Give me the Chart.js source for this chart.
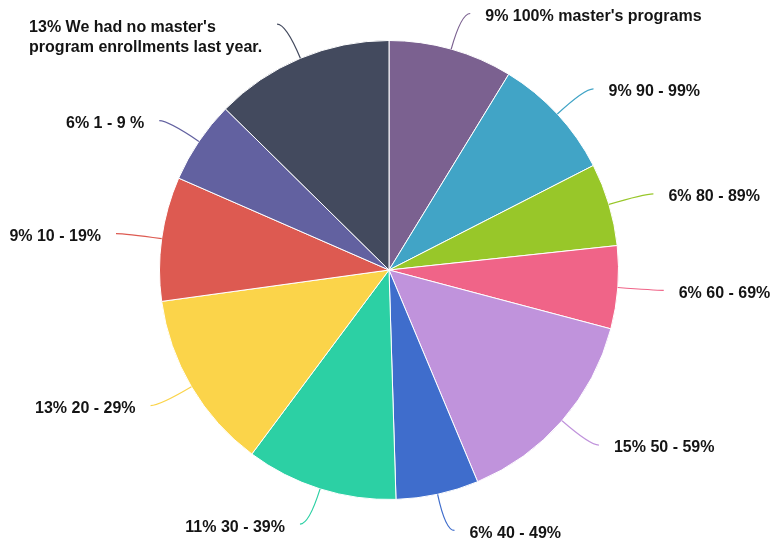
<!DOCTYPE html>
<html>
<head>
<meta charset="utf-8">
<script src="https://cdn.jsdelivr.net/npm/chart.js@4/dist/chart.umd.min.js"></script>
<style>
  html, body { margin: 0; padding: 0; background: #ffffff; }
  #wrap { width: 771px; height: 546px; position: relative; }
</style>
</head>
<body>
<div id="wrap"><canvas id="c" width="771" height="546"></canvas></div>
<script>
const categories = [
  "100% master's programs",
  "90 - 99%",
  "80 - 89%",
  "60 - 69%",
  "50 - 59%",
  "40 - 49%",
  "30 - 39%",
  "20 - 29%",
  "10 - 19%",
  "1 - 9 %",
  "We had no master's\nprogram enrollments last year."
];
const percents = [9, 9, 6, 6, 15, 6, 11, 13, 9, 6, 13];
const colors = [
  "#7b6190", "#41a4c6", "#98c729", "#f06488", "#c093dc", "#3f6dcc",
  "#2cd0a4", "#fbd44a", "#dd5a51", "#6261a0", "#434a5e"
];

const outerLabels = {
  id: 'outerLabels',
  afterDatasetsDraw(chart) {
    const ctx = chart.ctx;
    const meta = chart.getDatasetMeta(0);
    ctx.save();
    ctx.font = 'bold 16px "Liberation Sans", Arial, sans-serif';
    ctx.textBaseline = 'middle';
    meta.data.forEach((arc, i) => {
      const p = arc.getProps(['x', 'y', 'startAngle', 'endAngle', 'outerRadius']);
      const mid = (p.startAngle + p.endAngle) / 2;
      const cos = Math.cos(mid), sin = Math.sin(mid);
      const r = p.outerRadius;
      const side = cos >= 0 ? 1 : -1;
      const x0 = p.x + cos * r, y0 = p.y + sin * r;
      const ex = p.x + cos * (r + 37), ey = p.y + sin * (r + 37);
      const x3 = ex + side * 9, y3 = ey;
      ctx.strokeStyle = colors[i];
      ctx.lineWidth = 1.2;
      ctx.beginPath();
      ctx.moveTo(x0, y0);
      ctx.quadraticCurveTo(ex, ey, x3, y3);
      ctx.stroke();

      const lines = (percents[i] + '% ' + categories[i]).split('\n');
      ctx.fillStyle = '#141414';
      const tx = x3 + side * 15;
      const ty = y3 + 3;
      if (lines.length === 1) {
        ctx.textAlign = side > 0 ? 'left' : 'right';
        ctx.fillText(lines[0], tx, ty);
      } else {
        const w = Math.max(...lines.map(l => ctx.measureText(l).width));
        const left = side > 0 ? tx : tx - w;
        ctx.textAlign = 'left';
        lines.forEach((l, k) => ctx.fillText(l, left, ty + k * 20));
      }
    });
    ctx.restore();
  }
};

new Chart(document.getElementById('c'), {
  type: 'pie',
  data: {
    labels: categories,
    datasets: [{
      data: percents,
      backgroundColor: colors,
      borderColor: '#ffffff',
      borderWidth: 1
    }]
  },
  options: {
    responsive: false,
    animation: false,
    layout: { padding: { top: 40, bottom: 46, left: 159, right: 152 } },
    plugins: {
      legend: { display: false },
      tooltip: { enabled: false }
    }
  },
  plugins: [outerLabels]
});
</script>
</body>
</html>
